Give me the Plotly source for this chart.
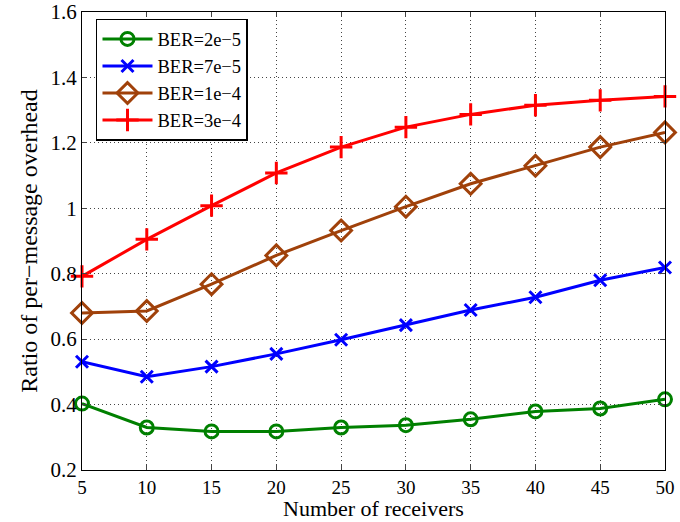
import plotly.graph_objects as go

receivers = [5, 10, 15, 20, 25, 30, 35, 40, 45, 50]
ber_2e5 = [0.403, 0.330, 0.318, 0.318, 0.330, 0.337, 0.355, 0.379, 0.388, 0.416]
ber_7e5 = [0.531, 0.485, 0.516, 0.555, 0.598, 0.643, 0.689, 0.728, 0.780, 0.819]
ber_1e4 = [0.680, 0.686, 0.768, 0.856, 0.932, 1.005, 1.075, 1.130, 1.187, 1.232]
ber_3e4 = [0.792, 0.905, 1.008, 1.108, 1.187, 1.248, 1.287, 1.315, 1.330, 1.342]
names = ["BER=2e\u22125", "BER=7e\u22125", "BER=1e\u22124", "BER=3e\u22124"]
yticks = [0.2, 0.4, 0.6, 0.8, 1.0, 1.2, 1.4, 1.6]
yticktext = ["0.2", "0.4", "0.6", "0.8", "1", "1.2", "1.4", "1.6"]

series = [ber_2e5, ber_7e5, ber_1e4, ber_3e4]
colors = ["#008000", "#0000FF", "#A0410A", "#FF0000"]
symbols = ["circle-open", "x-thin-open", "diamond-open", "cross-thin-open"]
sizes = [13, 12, 16, 16]

fig = go.Figure()
for vals, name, c, s, sz in zip(series, names, colors, symbols, sizes):
    fig.add_trace(go.Scatter(
        x=receivers, y=vals, name=name, mode="lines+markers",
        line=dict(color=c, width=3),
        marker=dict(symbol=s, size=sz, color=c, line=dict(color=c, width=3)),
        cliponaxis=False,
    ))

font = "Liberation Serif"
grid = dict(showgrid=True, gridcolor="#444444", griddash="1px,3px", gridwidth=1)
fig.update_layout(
    width=680, height=522,
    margin=dict(l=82, r=15, t=12, b=52),
    paper_bgcolor="white", plot_bgcolor="white",
    font=dict(family=font, size=20, color="black"),
    showlegend=True,
    legend=dict(x=0.024, y=0.985, xanchor="left", yanchor="top",
                bgcolor="white", bordercolor="black", borderwidth=1.5,
                font=dict(family=font, size=18.5), tracegroupgap=0,
                itemwidth=50),
    xaxis=dict(range=[5, 50], tickvals=receivers, ticks="inside", ticklen=5,
               showline=True, linecolor="black", linewidth=1, mirror="ticks",
               zeroline=False, automargin=False,
               tickfont=dict(size=19), **grid),
    yaxis=dict(range=[0.2, 1.6], tickvals=yticks, ticktext=yticktext,
               ticks="inside", ticklen=5,
               showline=True, linecolor="black", linewidth=1, mirror="ticks",
               zeroline=False, automargin=False,
               title=dict(text="Ratio of per\u2212message overhead", font=dict(size=24), standoff=6),
               tickfont=dict(size=21), **grid),
    annotations=[dict(text="Number of receivers", xref="paper", yref="paper",
                      x=0.5, y=0, yanchor="bottom", xanchor="center", yshift=-52,
                      borderpad=0, showarrow=False, font=dict(size=22))],
)
fig.write_html("out.html")
